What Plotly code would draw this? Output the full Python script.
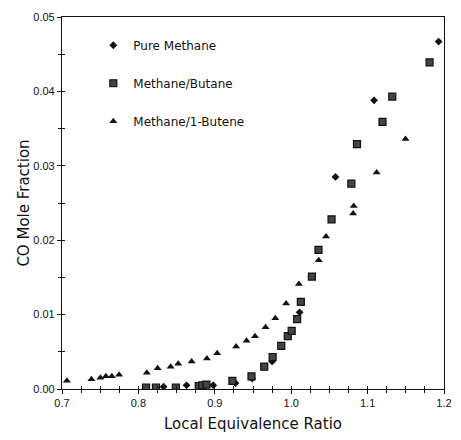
import plotly.graph_objects as go

# Pure Methane
pm_x = [0.833, 0.863, 0.898, 0.927, 0.949, 0.975, 1.011, 1.058, 1.1085, 1.193]
pm_y = [0.0003, 0.0005, 0.0005, 0.0008, 0.0014, 0.0037, 0.0103, 0.0285, 0.0388, 0.0467]

# Methane/Butane
mb_x = [0.810, 0.823, 0.849, 0.879, 0.8835, 0.889, 0.923, 0.948, 0.9647, 0.9757, 0.987,
        0.9955, 1.0006, 1.0078, 1.0126, 1.0271, 1.0357, 1.0528, 1.0787, 1.0861, 1.1195,
        1.1323, 1.1811]
mb_y = [0.0002, 0.0002, 0.0002, 0.0004, 0.0005, 0.0006, 0.0011, 0.0017, 0.0030, 0.0043, 0.0058,
        0.0071, 0.0078, 0.0094, 0.0117, 0.0151, 0.0187, 0.0228, 0.0276, 0.0329, 0.0359,
        0.0393, 0.0439]

# Methane/1-Butene
m1b_x = [0.7064, 0.7385, 0.7503, 0.7575, 0.7652, 0.7747, 0.811, 0.8252, 0.8422, 0.8521,
         0.8697, 0.8897, 0.9031, 0.9279, 0.9416, 0.9526, 0.9664, 0.9792, 0.9933, 1.010,
         1.0361, 1.0456, 1.081, 1.0819, 1.1118, 1.1496]
m1b_y = [0.0011, 0.0013, 0.0015, 0.0017, 0.0017, 0.0019, 0.0022, 0.0028, 0.0030, 0.0034,
         0.0037, 0.0041, 0.0048, 0.0057, 0.0065, 0.0071, 0.0083, 0.0095, 0.0115, 0.0141,
         0.0173, 0.0205, 0.0236, 0.0246, 0.0291, 0.0336]

x_ticks = [0.7, 0.8, 0.9, 1.0, 1.1, 1.2]
y_ticks = [0.00, 0.01, 0.02, 0.03, 0.04, 0.05]

fig = go.Figure()
fig.add_trace(go.Scatter(x=pm_x, y=pm_y, mode="markers", name="Pure Methane",
                         legendgroup="a",
                         marker=dict(symbol="diamond", size=6, color="#111")))
fig.add_trace(go.Scatter(x=mb_x, y=mb_y, mode="markers", name="Methane/Butane",
                         legendgroup="b",
                         marker=dict(symbol="square", size=7, color="#444",
                                     line=dict(color="#111", width=1.2))))
fig.add_trace(go.Scatter(x=m1b_x, y=m1b_y, mode="markers", name="Methane/1-Butene",
                         legendgroup="c",
                         marker=dict(symbol="triangle-up", size=7, color="#111")))
# invisible trace for overlay axes
fig.add_trace(go.Scatter(x=[0.7], y=[0], xaxis="x2", yaxis="y2", mode="markers",
                         marker=dict(opacity=0), showlegend=False, hoverinfo="skip"))

axis_font = dict(family="Liberation Sans Narrow, Liberation Sans", size=11, color="#111")
fig.update_layout(
    width=461, height=440,
    margin=dict(l=62, r=9, t=17, b=51),
    paper_bgcolor="white", plot_bgcolor="white",
    showlegend=True,
    legend=dict(x=0.082, y=0.963, xanchor="left", yanchor="top",
                font=dict(family="DejaVu Sans", size=12, color="#111"),
                bgcolor="rgba(0,0,0,0)", tracegroupgap=19, itemwidth=30),
    xaxis=dict(range=[0.7, 1.2], tickvals=x_ticks, ticktext=[f"{v:.1f}" for v in x_ticks],
               showgrid=False, zeroline=False, showline=True, linecolor="#111", linewidth=1.2,
               mirror=True, ticks="outside", ticklen=4, tickcolor="#111",
               ticklabeloverflow="allow",
               minor=dict(dtick=0.025, tick0=0.7, ticks="outside", ticklen=3, tickcolor="#111"),
               tickfont=axis_font,
               title=dict(text="Local Equivalence Ratio", font=dict(family="DejaVu Sans", size=15, color="#111"),
                          standoff=10)),
    yaxis=dict(range=[0, 0.05], tickvals=y_ticks, ticktext=[f"{v:.2f}" for v in y_ticks],
               showgrid=False, zeroline=False, showline=True, linecolor="#111", linewidth=1.2,
               mirror=True, ticks="outside", ticklen=4, tickcolor="#111",
               ticklabeloverflow="allow",
               minor=dict(dtick=0.005, tick0=0, ticks="outside", ticklen=3, tickcolor="#111"),
               tickfont=axis_font,
               title=dict(text="CO Mole Fraction", font=dict(family="DejaVu Sans", size=15, color="#111"),
                          standoff=0)),
    xaxis2=dict(overlaying="x", range=[0.7, 1.2], showgrid=False, zeroline=False,
                showticklabels=False, ticks="inside", dtick=0.025, tick0=0.7, ticklen=3,
                tickcolor="#111", showline=False),
    yaxis2=dict(overlaying="y", range=[0, 0.05], showgrid=False, zeroline=False,
                showticklabels=False, ticks="inside", dtick=0.005, tick0=0, ticklen=3,
                tickcolor="#111", showline=False),
)

fig.write_html("out.html", config={"displayModeBar": False},
               post_script="document.body.style.margin='0';")
